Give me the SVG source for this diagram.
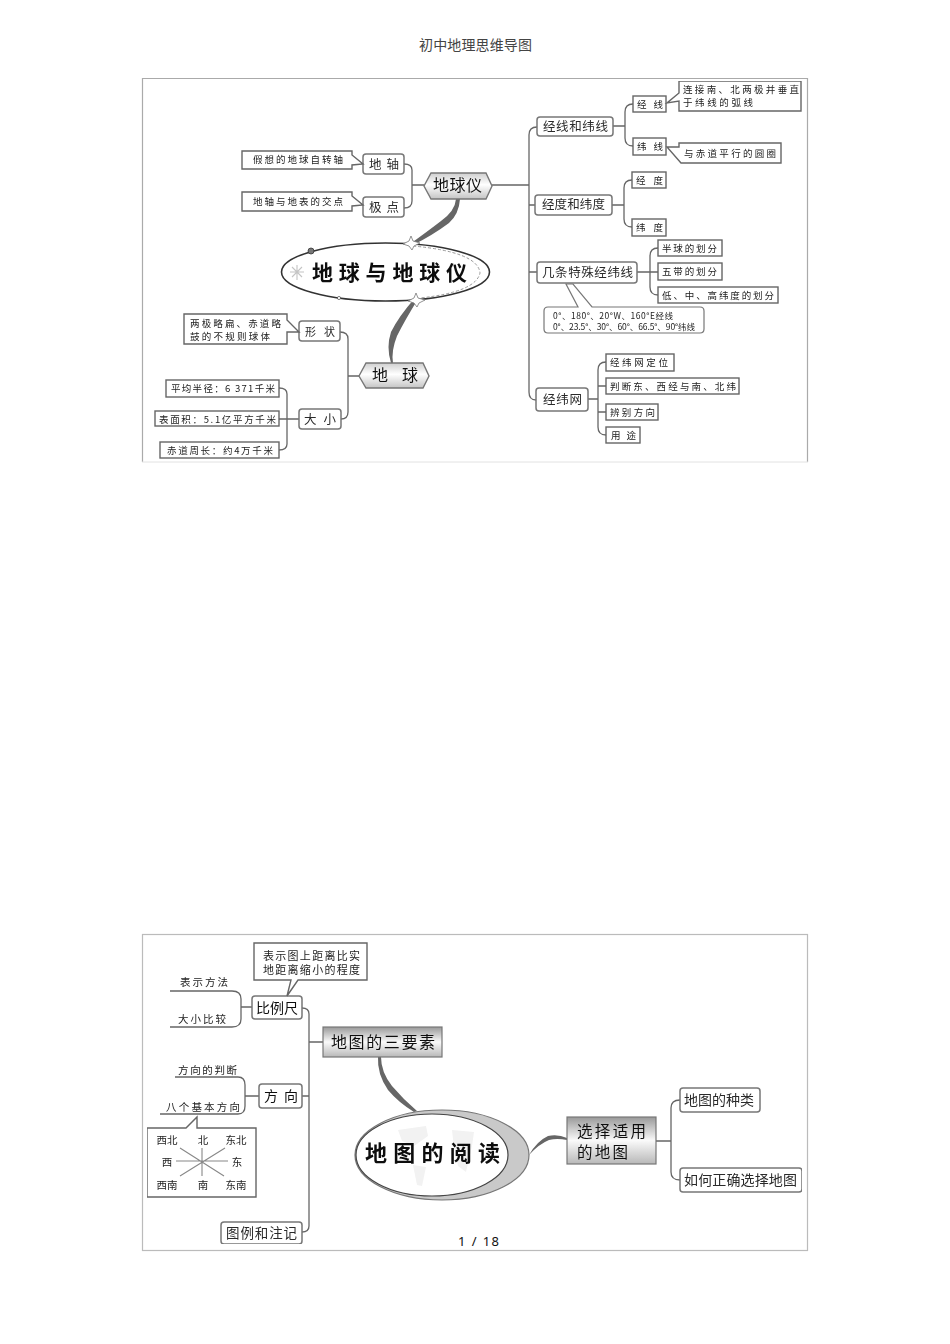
<svg xmlns="http://www.w3.org/2000/svg" width="950" height="1344" viewBox="0 0 950 1344">
<style>
text{font-family:"Noto Sans CJK SC","Noto Sans",sans-serif;fill:#222}
.s{font-size:9.5px;fill:#222}
.m{font-size:12.5px;fill:#2a2a2a}
.b{font-size:14.5px;fill:#111}
.h{font-weight:700;fill:#111}
.box{fill:#fff;stroke:#666;stroke-width:1.4}
.rbox{fill:#fff;stroke:#777;stroke-width:1.5}
.line{fill:none;stroke:#666;stroke-width:1.3}
.thin{fill:none;stroke:#888;stroke-width:1.1}
.sw{fill:#666;stroke:none}
.page{font-family:"Noto Sans","Noto Sans CJK SC",sans-serif;fill:#444}
</style>
<defs>
<filter id="soft" x="0" y="0" width="1" height="1"><feGaussianBlur stdDeviation="0.35"/></filter>
<linearGradient id="hex" x1="0" y1="0" x2="0" y2="1"><stop offset="0" stop-color="#cfcfcf"/><stop offset=".45" stop-color="#fff"/><stop offset="1" stop-color="#c4c4c4"/></linearGradient>
<linearGradient id="sq" x1="0" y1="0" x2="0" y2="1"><stop offset="0" stop-color="#999"/><stop offset=".5" stop-color="#fafafa"/><stop offset="1" stop-color="#b8b8b8"/></linearGradient>
</defs>
<rect width="950" height="1344" fill="#fff"/>
<text id="page-title" class="page" x="419" y="50" font-size="14" textLength="113">初中地理思维导图</text>
<text id="page-number" class="page" style="fill:#111" x="458" y="1246" font-size="13" textLength="41">1 / 18</text>
<g id="frames" fill="none">
<path d="M142.500 462V78.500H807.500V462" stroke="#aaa" stroke-width="1.200"/>
<path d="M142 462H808" stroke="#e2e2e2"/>
<rect x="142.500" y="934.500" width="665" height="316" stroke="#bbb" stroke-width="1.200"/>
</g>
<g filter="url(#soft)">
<g id="connectors">
<path class="line" d="M404 164Q412 164 412 170V201Q412 208 404 208M412 185H424"/>
<path class="line" d="M492 185H529M537 127Q529 127 529 135V392Q529 400 536 400M529 205H535M529 272H537"/>
<path class="line" d="M613 126H625M633 104Q625 104 625 112V138Q625 146 633 146"/>
<path class="line" d="M612 205H624M632 180Q624 180 624 188V219Q624 227 632 227"/>
<path class="line" d="M637 272H658M658 248Q650 248 650 256V287Q650 295 658 295"/>
<path class="line" d="M588 399H598M606 362Q598 362 598 370V427Q598 435 606 435M598 386H606M598 412H606"/>
<path class="line" d="M340 332Q348 332 348 339V412Q348 419 341 419M348 376H359"/>
<path class="line" d="M279 388Q287 388 287 394V444Q287 450 279 450M279 419H299"/>
<path class="sw" d="M456 199H460Q459 214 449 223Q433 235 413 245L410 244Q428 231 441 221Q455 211 456 199Z"/>
<path class="sw" d="M391 363H393Q391 351 397 336Q405 320 418 299L415 298Q399 316 391 332Q386 347 391 363Z"/>
<path class="line" d="M302 1008Q309 1008 309 1014V1226Q309 1232 302 1232M309 1042H323M302 1096H309"/>
<path class="line" d="M170 991H232Q241 991 241 999V1019Q241 1027 232 1027H170M241 1007H252"/>
<path class="line" d="M175 1077H238Q245 1077 245 1085V1106Q245 1114 238 1114H160M245 1096H259"/>
<path class="sw" d="M378 1057H381Q381 1072 392 1086Q403 1099 417 1111L414 1112Q398 1102 388 1090Q377 1074 378 1057Z"/>
<path class="sw" d="M529 1155Q537 1141 548 1136Q558 1134 567 1138V1140Q557 1138 549 1140Q539 1144 529 1155Z"/>
<path class="line" d="M656 1141H671M680 1100Q671 1100 671 1108V1172Q671 1180 680 1180"/>
</g>
<g id="earth-center">
<ellipse cx="385.500" cy="272" rx="104" ry="29" fill="#fff" stroke="#333" stroke-width="1.600"/>
<path d="M413 246Q478 252 480 273Q476 292 420 298" fill="none" stroke="#999" stroke-width="1" stroke-dasharray="3 2"/>
<circle cx="311" cy="251" r="3" fill="#777" stroke="#333" stroke-width=".8"/>
<circle cx="339" cy="298" r="1.600" fill="#fff" stroke="#333" stroke-width=".6"/>
<path d="M297 265V280M290 272H304M292 267L302 277M302 267L292 277" stroke="#c4c4c4" stroke-width="1.100"/>
<path d="M411 236L413 241L420 243L414 246L412 250L409 246L403 244L409 241Z" fill="#fff" stroke="#777" stroke-width=".8"/>
<path d="M416 293L418 298L425 300L419 303L417 307L414 303L408 301L414 298Z" fill="#fff" stroke="#777" stroke-width=".8"/>
<text class="h" x="312" y="280" font-size="21" textLength="155">地球与地球仪</text>
</g>
<g id="n-globe"><path d="M424 186L431 173H486L492 186L486 199H431Z" fill="url(#hex)" stroke="#777" stroke-width="1.400"/><text class="b" x="433" y="191" style="font-size:16px" textLength="49">地球仪</text></g>
<g id="n-earth"><path d="M359 376L366 363H423L429 376L423 388H366Z" fill="url(#hex)" stroke="#777" stroke-width="1.400"/><text class="b" x="372" y="381" style="font-size:16px" textLength="46">地 球</text></g>
<g id="n-diz"><rect class="rbox" x="363" y="154" width="41" height="20" rx="3"/><text class="m" x="369" y="169" textLength="30">地 轴</text></g>
<g id="n-jd"><rect class="rbox" x="363" y="197" width="41" height="20" rx="3"/><text class="m" x="369" y="212" textLength="30">极 点</text></g>
<g id="n-diz-note"><path class="box" d="M242 151H352V155L363 164L352 165V169H242Z"/><text class="s" x="253" y="163" textLength="90">假想的地球自转轴</text></g>
<g id="n-jd-note"><path class="box" d="M242 192H352V196L363 205L352 206V211H242Z"/><text class="s" x="253" y="205" textLength="90">地轴与地表的交点</text></g>
<g id="n-jxwx"><rect class="rbox" x="537" y="117" width="76" height="19" rx="3"/><text class="m" x="543" y="131" textLength="65">经线和纬线</text></g>
<g id="n-jx"><rect class="box" x="633" y="96" width="33" height="16"/><text class="s" x="637" y="108" textLength="26">经 线</text></g>
<g id="n-jx-note"><path class="box" d="M679 81H801V111H679V101L667 103L679 93Z"/><text class="s" x="683" y="93" textLength="116">连接南、北两极并垂直</text><text class="s" x="683" y="106" textLength="70">于纬线的弧线</text></g>
<g id="n-wx"><rect class="box" x="633" y="138" width="33" height="17"/><text class="s" x="637" y="150" textLength="26">纬 线</text></g>
<g id="n-wx-note"><path class="box" d="M679 143H781V163H681L667 147L679 147Z"/><text class="s" x="684" y="157" textLength="92">与赤道平行的圆圈</text></g>
<g id="n-jdwd"><rect class="rbox" x="535" y="195" width="77" height="20" rx="3"/><text class="m" x="542" y="209" textLength="63">经度和纬度</text></g>
<g id="n-jd2"><rect class="box" x="632" y="172" width="34" height="16"/><text class="s" x="636" y="184" textLength="27">经 度</text></g>
<g id="n-wd"><rect class="box" x="632" y="219" width="34" height="17"/><text class="s" x="636" y="231" textLength="27">纬 度</text></g>
<g id="n-special"><rect class="rbox" x="537" y="262" width="100" height="21" rx="3"/><text class="m" x="542" y="277" textLength="91">几条特殊经纬线</text></g>
<g id="n-bq"><rect class="box" x="658" y="240" width="64" height="16"/><text class="s" x="662" y="252" textLength="55">半球的划分</text></g>
<g id="n-wd2"><rect class="box" x="658" y="263" width="64" height="17"/><text class="s" x="662" y="275" textLength="55">五带的划分</text></g>
<g id="n-dzg"><rect class="box" x="658" y="287" width="120" height="16"/><text class="s" x="662" y="299" textLength="112">低、中、高纬度的划分</text></g>
<g id="n-special-note"><path class="rbox" style="stroke-width:1.200" d="M548 307H578L566 284L573 284L592 307H700Q704 307 704 311V329Q704 333 700 333H548Q544 333 544 329V311Q544 307 548 307Z"/><text class="s" style="font-size:8.500px" x="553" y="319" textLength="120">0°、180°、20°W、160°E经线</text><text class="s" style="font-size:8.500px" x="553" y="330" textLength="142">0°、23.5°、30°、60°、66.5°、90°纬线</text></g>
<g id="n-net"><rect class="rbox" x="536" y="388" width="52" height="23" rx="3"/><text class="m" x="543" y="404" textLength="39">经纬网</text></g>
<g id="n-net1"><rect class="box" x="606" y="354" width="68" height="17"/><text class="s" x="610" y="366" textLength="58">经纬网定位</text></g>
<g id="n-net2"><rect class="box" x="606" y="378" width="133" height="16"/><text class="s" x="610" y="390" textLength="126">判断东、西经与南、北纬</text></g>
<g id="n-net3"><rect class="box" x="606" y="404" width="52" height="16"/><text class="s" x="610" y="416" textLength="45">辨别方向</text></g>
<g id="n-net4"><rect class="box" x="606" y="427" width="34" height="16"/><text class="s" x="611" y="439" textLength="25">用 途</text></g>
<g id="n-shape"><rect class="rbox" x="299" y="321" width="41" height="20" rx="3"/><text class="m" x="305" y="336" textLength="30" style="font-size:11px">形 状</text></g>
<g id="n-shape-note"><path class="box" d="M184 314H287V320L299 332L287 332V344H184Z"/><text class="s" x="190" y="327" textLength="91">两极略扁、赤道略</text><text class="s" x="190" y="340" textLength="80">鼓的不规则球体</text></g>
<g id="n-size"><rect class="rbox" x="299" y="409" width="42" height="20" rx="3"/><text class="m" x="304" y="424" textLength="32">大 小</text></g>
<g id="n-radius"><rect class="box" x="166" y="380" width="113" height="17"/><text class="s" x="171" y="392" textLength="104">平均半径：6 371千米</text></g>
<g id="n-area"><rect class="box" x="155" y="411" width="124" height="15"/><text class="s" x="159" y="423" textLength="117">表面积：5.1亿平方千米</text></g>
<g id="n-girth"><rect class="box" x="160" y="442" width="119" height="16"/><text class="s" x="167" y="454" textLength="106">赤道周长：约4万千米</text></g>
<g id="map-center">
<ellipse cx="442" cy="1155" rx="87" ry="45" fill="#c9c9c9" stroke="#777" stroke-width="1.200"/>
<ellipse cx="432" cy="1155" rx="76" ry="41" fill="#fff" stroke="#444" stroke-width="1.200"/>
<g fill="#f2f2f2"><path d="M398 1130L426 1126L428 1136L414 1146L402 1141Z"/><path d="M413 1165L426 1167L422 1186L417 1185Z"/><path d="M452 1130L474 1132L472 1146L466 1172L458 1166L454 1148Z"/></g>
<text class="h" x="365" y="1161" font-size="22" textLength="135">地图的阅读</text>
</g>
<g id="n-scale"><rect class="rbox" x="252" y="996" width="50" height="23" rx="3"/><text class="b" x="256" y="1013" style="font-size:14px" textLength="42">比例尺</text></g>
<g id="n-scale-note"><path class="box" d="M254 943H367V980H298L287 996L291 980H254Z"/><text class="s" style="font-size:11px" x="263" y="960" textLength="97">表示图上距离比实</text><text class="s" style="font-size:11px" x="263" y="974" textLength="97">地距离缩小的程度</text></g>
<text id="l-bsff" class="s" style="font-size:10.500px" x="180" y="986" textLength="48">表示方法</text>
<text id="l-dxbj" class="s" style="font-size:10.500px" x="178" y="1023" textLength="48">大小比较</text>
<g id="n-three"><rect x="323" y="1027" width="119" height="30" fill="url(#sq)" stroke="#777" stroke-width="1.200"/><text class="b" x="331" y="1048" style="font-size:16px" textLength="104">地图的三要素</text></g>
<g id="n-dir"><rect class="rbox" x="259" y="1084" width="43" height="24" rx="3"/><text class="b" x="264" y="1101" style="font-size:14px" textLength="34">方 向</text></g>
<text id="l-fxpd" class="s" style="font-size:10.500px" x="178" y="1074" textLength="59">方向的判断</text>
<text id="l-bgjb" class="s" style="font-size:10.500px" x="166" y="1111" textLength="74">八个基本方向</text>
<g id="n-compass">
<path class="box" d="M147 1128H186L197 1117V1128H256V1197H147Z"/>
<path class="thin" d="M180 1148L224 1176M225 1148L180 1176M202 1148V1176M176 1161H228"/>
<text class="s" x="167" y="1144" style="font-size:10.500px;text-anchor:middle">西北</text><text class="s" x="203" y="1144" style="font-size:10.500px;text-anchor:middle">北</text><text class="s" x="236" y="1144" style="font-size:10.500px;text-anchor:middle">东北</text><text class="s" x="167" y="1166" style="font-size:10.500px;text-anchor:middle">西</text><text class="s" x="237" y="1166" style="font-size:10.500px;text-anchor:middle">东</text><text class="s" x="167" y="1189" style="font-size:10.500px;text-anchor:middle">西南</text><text class="s" x="203" y="1189" style="font-size:10.500px;text-anchor:middle">南</text><text class="s" x="236" y="1189" style="font-size:10.500px;text-anchor:middle">东南</text>
</g>
<g id="n-legend"><rect class="rbox" x="221" y="1222" width="81" height="22" rx="3"/><text class="m" style="font-size:13.500px" x="226" y="1238" textLength="71">图例和注记</text></g>
<g id="n-choose"><rect x="567" y="1117" width="89" height="47" fill="url(#sq)" stroke="#777" stroke-width="1.200"/><text class="b" style="font-size:15.500px" x="577" y="1137" textLength="69">选择适用</text><text class="b" style="font-size:15.500px" x="577" y="1158" textLength="51">的地图</text></g>
<g id="n-kinds"><rect class="rbox" x="680" y="1088" width="80" height="24" rx="3"/><text class="m" style="font-size:14px" x="684" y="1105" textLength="70">地图的种类</text></g>
<g id="n-howto"><rect class="rbox" x="680" y="1168" width="122" height="24" rx="3"/><text class="m" style="font-size:14px" x="684" y="1185" textLength="113">如何正确选择地图</text></g>
</g>
</svg>
